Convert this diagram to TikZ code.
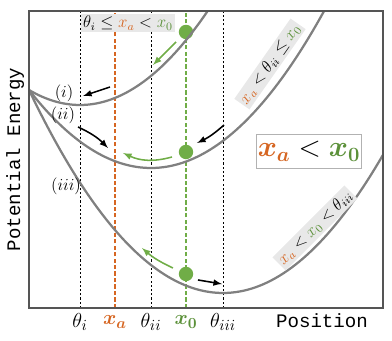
\documentclass[tikz,border=0pt]{standalone}
\usepackage{amsmath}
\usepackage{fontspec}
\newfontfamily\codefont{Liberation Mono}
\definecolor{orng}{RGB}{214,102,34}
\definecolor{grn}{RGB}{112,173,71}
\definecolor{grntxt}{RGB}{92,145,58}
\definecolor{boxgray}{RGB}{232,232,232}
\definecolor{crvgray}{RGB}{128,128,128}
\definecolor{framegray}{RGB}{85,85,85}
\begin{document}
\begin{tikzpicture}[
    frm/.style={draw=framegray, line width=1.3pt},
    guide/.style={line width=0.6pt, dash pattern=on 1.5pt off 1.5pt},
    posline/.style={line width=1.3pt, dash pattern=on 3pt off 1.6pt},
    crv/.style={draw=crvgray, line width=1.6pt},
    ball/.style={circle, fill=grn, minimum size=0.36cm, inner sep=0pt},
    fl/.style={->, >=latex, line width=1.1pt},
    gfl/.style={fl, draw=grn},
    tag/.style={font=\fontsize{11.5}{13}\selectfont, fill=boxgray, inner sep=1.5pt},
    cl/.style={font=\fontsize{12}{14}\selectfont},
    axl/.style={font=\codefont\fontsize{13.6}{15}\selectfont},
    tick/.style={font=\fontsize{15}{17}\selectfont}
]
  \useasboundingbox (0,0) rectangle (9.8,8.525);

  % ================= guide lines =================
  \draw[guide] (2.0,0.825)   -- (2.0,8.25);
  \draw[guide] (3.775,0.825) -- (3.775,8.25);
  \draw[guide] (5.575,0.825) -- (5.575,8.25);
  \draw[posline, orng] (2.875,0.825) -- (2.875,8.25);
  \draw[posline, grn]  (4.65,0.825)  -- (4.65,8.25);

  % top condition
  \node[tag] (cond) at (3.2,7.95)
      {$\theta_i \le {\color{orng}x_a} < {\color{grntxt}x_0}$};

  % ================= balls =================
  \node[ball] (b1) at (4.65,7.725) {};
  \node[ball] (b2) at (4.65,4.725) {};
  \node[ball] (b3) at (4.65,1.675) {};

  % ================= potential curves =================
  \begin{scope}
    \clip (0.725,0.825) rectangle (9.575,8.25);
    \draw[crv] plot[domain=0.725:5.4, samples=60]   (\x, {5.9 + 0.2307*(\x-2.0)^2});
    \draw[crv] plot[domain=0.725:8.3, samples=80]   (\x, {4.325 + 0.2096*(\x-3.775)^2});
    \draw[crv] plot[domain=0.725:9.575, samples=90] (\x, {1.2 + 0.2158*(\x-5.575)^2});
  \end{scope}
  \node[cl] (ci)   at (1.6,6.2)    {$(i)$};
  \node[cl] (cii)  at (1.575,5.65) {$(ii)$};
  \node[cl] (ciii) at (1.65,3.875) {$(iii)$};

  % ================= motion arrows =================
  \draw[gfl] (4.4,7.475)  -- (3.825,6.9);
  \draw[fl]  (2.75,6.35)  -- (2.075,6.125);
  \draw[fl]  (1.95,5.35)  to[bend left=10] (2.7,4.825);
  \draw[gfl] (4.3,4.6)    to[bend left=20] (3.075,4.7);
  \draw[fl]  (5.6,5.4)    to[bend left=8]  (4.925,4.95);
  \draw[gfl] (4.325,1.825) to[bend left=8] (3.55,2.325);
  \draw[fl]  (4.95,1.525) -- (5.55,1.425);

  % ================= rotated conditions =================
  \node[tag, rotate=55] (condii) at (6.75,6.925)
      {${\color{orng}x_a} < \theta_{ii} \le {\color{grntxt}x_0}$};
  \node[tag, rotate=45] (condiii) at (7.875,2.825)
      {${\color{orng}x_a} < {\color{grntxt}x_0} < \theta_{iii}$};
  \node[draw=gray!60, fill=white, line width=0.6pt, minimum width=2.55cm,
        minimum height=0.83cm, inner sep=1pt, font=\fontsize{20}{22}\selectfont]
      (rule) at (7.725,4.74)
      {$\boldsymbol{{\color{orng}x_a}} < \boldsymbol{{\color{grntxt}x_0}}$};

  % ================= axes =================
  \draw[frm] (0.725,0.825) rectangle (9.575,8.25);
  \node[tick] (ti)   at (2.0,0.475)   {$\theta_i$};
  \node[tick] (xa)   at (2.875,0.475) {$\boldsymbol{\color{orng}x_a}$};
  \node[tick] (tii)  at (3.775,0.475) {$\theta_{ii}$};
  \node[tick] (xz)   at (4.65,0.475)  {$\boldsymbol{\color{grntxt}x_0}$};
  \node[tick] (tiii) at (5.575,0.475) {$\theta_{iii}$};
  \node[axl] (xlab) at (8.05,0.5) {Position};
  \node[axl, rotate=90] (ylab) at (0.38,4.54) {Potential Energy};

\end{tikzpicture}
\end{document}
